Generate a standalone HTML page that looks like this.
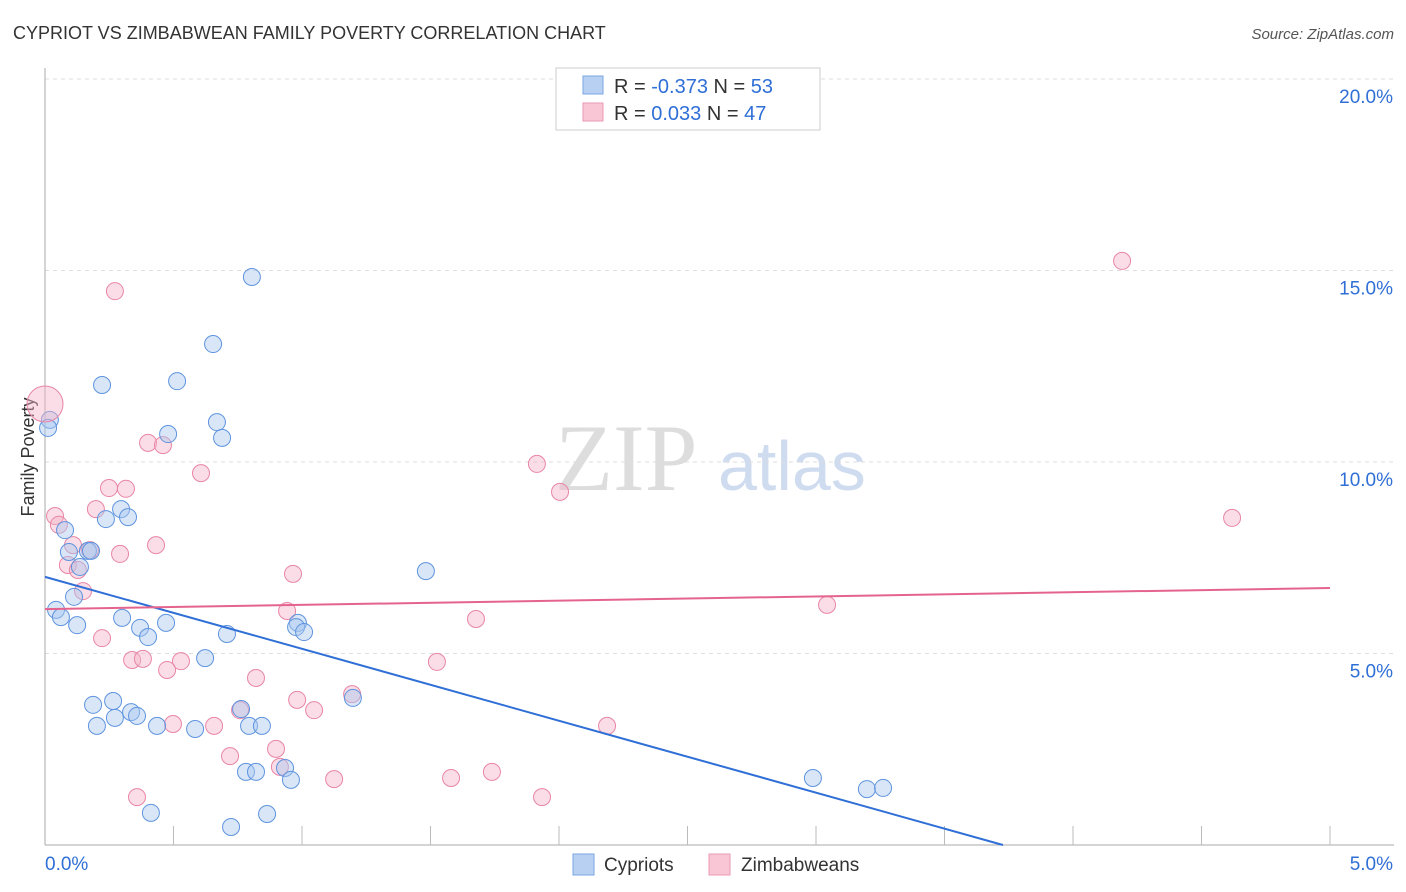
<!DOCTYPE html>
<html><head><meta charset="utf-8"><style>
body{margin:0;background:#fff;font-family:"Liberation Sans",sans-serif}
#c{position:absolute;left:0;top:0}
</style></head><body>
<svg id="c" width="1406" height="892" font-family="Liberation Sans, sans-serif">
<text x="13" y="39" font-size="18" fill="#333">CYPRIOT VS ZIMBABWEAN FAMILY POVERTY CORRELATION CHART</text>
<text x="1394" y="39" font-size="15" fill="#555" text-anchor="end" font-style="italic">Source: ZipAtlas.com</text>
<text x="34" y="457" font-size="18" fill="#333" text-anchor="middle" transform="rotate(-90 34 457)">Family Poverty</text>
<text x="555" y="490" font-size="95" fill="#ddd" font-family="Liberation Serif, serif">ZIP</text>
<text x="718" y="490" font-size="70" fill="#cfdcf0">atlas</text>
<g id="grid"></g><g id="pts"></g><g id="lines"></g>
<g>
<rect x="556" y="68" width="264" height="62" fill="#fff" stroke="#ccc"/>
<rect x="583" y="76" width="20" height="18" fill="#b8d1f3" stroke="#7aa6e0"/>
<rect x="583" y="103" width="20" height="18" fill="#f8c6d4" stroke="#eb9ab3"/>
<text x="614" y="93" font-size="20" fill="#333">R = <tspan fill="#2f6fd6">-0.373</tspan>   N = <tspan fill="#2f6fd6">53</tspan></text>
<text x="614" y="120" font-size="20" fill="#333">R =  <tspan fill="#2f6fd6">0.033</tspan>   N = <tspan fill="#2f6fd6">47</tspan></text>
</g>
<g>
<rect x="573" y="854" width="21" height="21" fill="#b8d1f3" stroke="#7aa6e0"/>
<text x="604" y="871" font-size="19" fill="#333">Cypriots</text>
<rect x="709" y="854" width="21" height="21" fill="#f8c6d4" stroke="#eb9ab3"/>
<text x="741" y="871" font-size="19" fill="#333">Zimbabweans</text>
</g>
</svg>
<script>
const yTicks=[5,10,15,20];
const xTickLabels=["0.0%","5.0%"];
const bluePx=[[252,277],[213,344],[102,385],[177,381],[217,422],[222,438],[168,434],[50,420],[48,428],[65,530],[121,509],[128,517],[106,519],[69,552],[88,551],[91,551],[80,567],[426,571],[56,610],[74,597],[61,617],[77,625],[122,618],[140,628],[148,637],[166,623],[227,634],[205,658],[298,623],[296,627],[304,632],[353,698],[93,705],[113,701],[131,712],[137,716],[115,718],[97,726],[157,726],[195,729],[241,709],[249,726],[262,726],[246,772],[256,772],[285,768],[291,780],[151,813],[231,827],[267,814],[813,778],[867,789],[883,788]];
const pinkPx=[[1122,261],[115,291],[148,443],[163,445],[201,473],[537,464],[560,492],[1232,518],[109,488],[126,489],[96,509],[55,516],[59,525],[73,545],[90,550],[156,545],[120,554],[68,565],[78,570],[83,591],[293,574],[287,611],[476,619],[827,605],[102,638],[132,660],[143,659],[181,661],[167,670],[437,662],[256,678],[352,694],[297,700],[314,710],[240,710],[173,724],[214,726],[607,726],[230,756],[276,749],[280,767],[334,779],[451,778],[492,772],[137,797],[542,797]];
// data values (x %, y %)
const cypX=bluePx.map(p=>+((p[0]-45)/257).toFixed(3));
const cypY=bluePx.map(p=>+((845-p[1])/38.3).toFixed(2));
const zimX=pinkPx.map(p=>+((p[0]-45)/257).toFixed(3));
const zimY=pinkPx.map(p=>+((845-p[1])/38.3).toFixed(2));
const cypTrend=[7.0,-1.878];
const zimTrend=[6.16,0.11];
const NS="http://www.w3.org/2000/svg";
const sx=v=>45+v*257, sy=v=>845-v*38.3;
function mk(t,a,parent){const e=document.createElementNS(NS,t);for(const k in a)e.setAttribute(k,a[k]);document.getElementById(parent).appendChild(e);return e;}
const g='grid';
yTicks.forEach(t=>{
 const l=mk('line',{x1:45,x2:1394,y1:sy(t),y2:sy(t),stroke:'#ddd','stroke-dasharray':'4,4'},g);
 
 
 const tx=mk('text',{x:1393,y:sy(t)+24,'font-size':19,fill:'#2f6fd6','text-anchor':'end'},g);
 tx.textContent=t.toFixed(1)+'%';
 
 
});
const ax=mk('line',{x1:45,x2:45,y1:68,y2:845,stroke:'#aaa'},g);


const bx=mk('line',{x1:45,x2:1394,y1:845,y2:845,stroke:'#aaa'},g);


for(let i=1;i<=10;i++){const t=mk('line',{x1:45+i*128.5,x2:45+i*128.5,y1:826,y2:845,stroke:'#bbb'},g);
 
 }
xTickLabels.forEach((s,i)=>{const t=mk('text',{x:i?1393:45,y:870,'font-size':19,fill:'#2f6fd6','text-anchor':i?'end':'start'},g);t.textContent=s;
 
 });
function pts(X,Y,fill,stroke,name){X.forEach((x,i)=>{const c=mk('circle',{cx:sx(x),cy:sy(Y[i]),r:8.5,fill:fill,stroke:stroke,'stroke-width':1,'fill-opacity':0.45},'pts');
 
 });}
pts(zimX,zimY,'#f5b3c7','#e886a6','zimbabwean-point');
pts(cypX,cypY,'#a9c7f0','#5f94de','cypriot-point');
const big=mk('circle',{cx:45,cy:404,r:18,fill:'#f5b3c7','fill-opacity':0.45,stroke:'#e886a6'},'pts');


const xEnd=-cypTrend[0]/cypTrend[1];
const bl=mk('line',{x1:sx(0),y1:sy(cypTrend[0]),x2:sx(xEnd),y2:sy(0),stroke:'#2f6fd6','stroke-width':2},'lines');


const pl=mk('line',{x1:sx(0),y1:sy(zimTrend[0]),x2:sx(5),y2:sy(zimTrend[0]+5*zimTrend[1]),stroke:'#e5648e','stroke-width':2},'lines');


</script>
</body></html>
